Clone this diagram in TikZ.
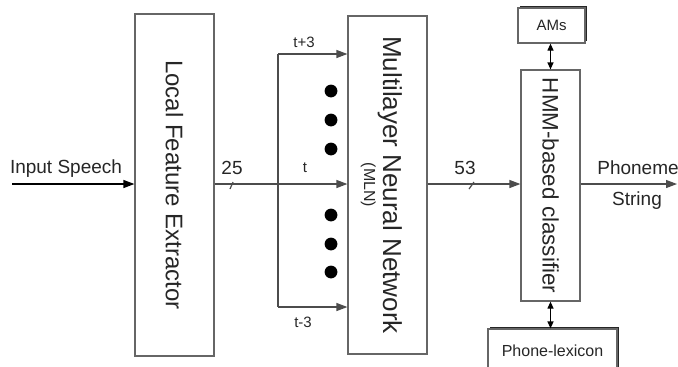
\documentclass[tikz,border=0pt]{standalone}
\usepackage{fontspec}
\setmainfont{Liberation Sans}
\usetikzlibrary{arrows.meta,positioning,shadows}

\begin{document}
\begin{tikzpicture}[x=0.5pt,y=-0.5pt, line width=0.6pt, color=black!70, text=black!85,
  block/.style={draw=black!60, inner sep=0pt},
  vtext/.style={rotate=-90, align=center, inner sep=0pt},
  store/.style={draw=black!60, fill=white, inner sep=0pt,
    general shadow={shadow xshift=1pt, shadow yshift=1pt, fill=black!85}},
  flow/.style={-{Triangle[length=5.5pt,width=4pt]}},
  link/.style={{Triangle[length=3.5pt,width=3pt]}-{Triangle[length=3.5pt,width=3pt]}},
  lbl/.style={font=\fontsize{9.5}{11}\selectfont, inner sep=0pt},
  tap/.style={font=\fontsize{7.5}{9}\selectfont, inner sep=0pt}]
  \useasboundingbox (0,0) rectangle (678,366);

  % front end
  \coordinate (src) at (12,184);
  \node[lbl] (srclbl) at (66,169) {Input Speech};
  \node[block, minimum width=39.5pt, minimum height=171pt] (lfe) at (174.5,185) {};
  \node[vtext, font=\fontsize{12}{14}\selectfont] (lfetxt) at (lfe.center) {Local Feature Extractor};
  \draw[flow, black] (src) -- (src -| lfe.west);

  % tapped bus into the network
  \coordinate (bus) at (278,184);
  \coordinate (bustop) at (278,54);
  \coordinate (busbot) at (278,307);
  \node[block, minimum width=39.5pt, minimum height=169pt] (mln) at (387.5,185) {};
  \node[vtext, font=\fontsize{13}{12.5}\selectfont] (mlntxt) at ([xshift=-3pt]mln.center)
    {Multilayer Neural Network\\[-3pt]{\fontsize{8}{9}\selectfont (MLN)}};
  \draw (lfe.east |- bus) -- (bus);
  \draw (230,189) -- (233,182);
  \node[lbl] (dimin) at (232,168) {25};
  \draw (bustop) -- (busbot);
  \draw[flow] (bustop) -- (bustop -| mln.west);
  \draw[flow] (bus) -- (bus -| mln.west);
  \draw[flow] (busbot) -- (busbot -| mln.west);
  \node[tap] (tplus) at (304,42) {t+3};
  \node[tap] (tnow) at (305,168) {t};
  \node[tap] (tminus) at (303,322) {t-3};
  \foreach \y in {91,120,149,215,244,272}
    \fill[black] (331,\y) circle (3.2pt);

  % classifier and its stores
  \node[block, minimum width=29.5pt, minimum height=115.5pt] (hmm) at (550.5,185.5) {};
  \node[vtext, font=\fontsize{11.2}{13}\selectfont] (hmmtxt) at (hmm.center) {HMM-based classifier};
  \draw[flow] (mln.east |- bus) -- (bus -| hmm.west);
  \draw (469,189) -- (474,182);
  \node[lbl] (dimout) at (465,168) {53};
  \node[store, minimum width=33.5pt, minimum height=17.5pt, font=\fontsize{7.5}{9}\selectfont] (ams) at (551.5,25.5) {AMs};
  \node[store, minimum width=64.5pt, minimum height=22pt, font=\fontsize{8}{9}\selectfont] (lex) at (552.5,351) {Phone-lexicon};
  \draw[link, black] (hmm.north) -- (hmm.north |- ams.south);
  \draw[link, black] (hmm.south) -- (hmm.south |- lex.north);

  % output
  \coordinate (sink) at (677,184);
  \draw[flow] (bus -| hmm.east) -- (sink);
  \node[lbl] (outtop) at (638,168) {Phoneme};
  \node[lbl] (outbot) at (637,201) {String};
\end{tikzpicture}
\end{document}
